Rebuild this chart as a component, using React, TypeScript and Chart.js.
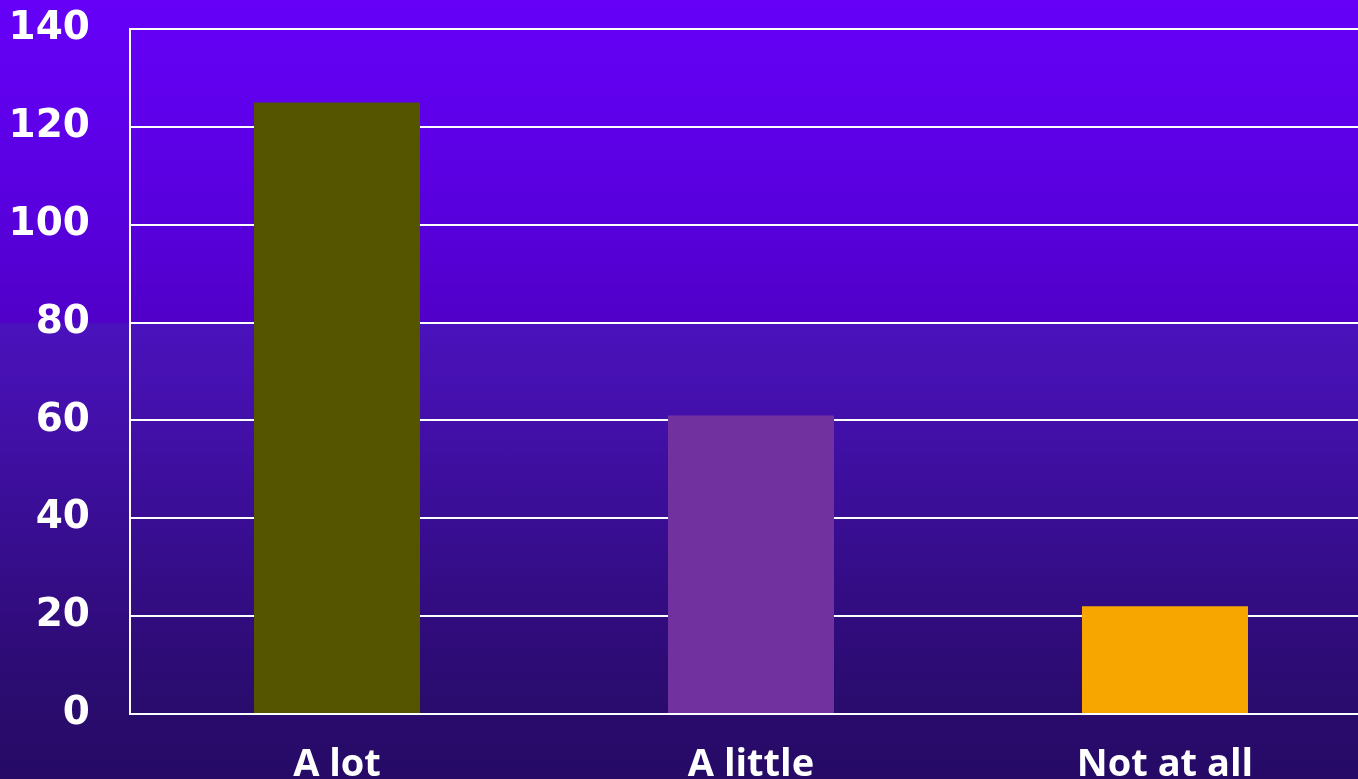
import React, { useEffect, useRef } from "react";
import { Chart, registerables } from "chart.js";

Chart.register(...registerables);

const categories = ["A lot", "A little", "Not at all"];
const values = [125, 61, 22];
const barColors = ["#555500", "#7132A0", "#F7A600"];
const yMin = 0;
const yMax = 140;
const yStep = 20;

export default function App() {
  const canvasRef = useRef<HTMLCanvasElement | null>(null);

  useEffect(() => {
    if (!canvasRef.current) return;
    const chart = new Chart(canvasRef.current, {
      type: "bar",
      data: {
        labels: categories,
        datasets: [
          {
            data: values,
            backgroundColor: barColors,
            borderWidth: 0,
            categoryPercentage: 1,
            barPercentage: 0.401,
          },
        ],
      },
      options: {
        responsive: false,
        animation: false,
        layout: { padding: { top: 29, right: 2, left: 0, bottom: 0 } },
        plugins: {
          legend: { display: false },
          tooltip: { enabled: false },
        },
        scales: {
          x: {
            grid: { display: false, drawTicks: false },
            border: { display: false },
            ticks: {
              color: "#ffffff",
              padding: 28,
              font: { family: "'Open Sans'", size: 38, weight: "bold" },
            },
            afterFit: (scale: any) => {
              scale.height = 76;
              scale.paddingLeft = 0;
              scale.paddingRight = 0;
            },
          },
          y: {
            min: yMin,
            max: yMax,
            grid: { color: "#ffffff", lineWidth: 2, drawTicks: false },
            border: { display: true, color: "#ffffff", width: 2 },
            ticks: {
              stepSize: yStep,
              color: "#ffffff",
              padding: 40,
              font: { family: "'DejaVu Sans'", size: 39, weight: "bold" },
            },
            afterFit: (scale: any) => {
              scale.width = 130;
              scale.paddingTop = 0;
              scale.paddingBottom = 0;
            },
          },
        },
      },
    });
    return () => chart.destroy();
  }, []);

  return (
    <div
      style={{
        position: "fixed",
        left: 0,
        top: 0,
        width: 1358,
        height: 779,
        overflow: "hidden",
        background:
          "linear-gradient(to bottom, #6600F8 0px, #5E00EA 120px, #5800DC 220px, #5000C8 322px, #4A12BC 324px, #4410AC 410px, #3A0E96 510px, #320C80 610px, #2A0C6E 700px, #260A66 779px)",
      }}
    >
      <canvas ref={canvasRef} width={1374} height={790} style={{ display: "block" }} />
    </div>
  );
}
